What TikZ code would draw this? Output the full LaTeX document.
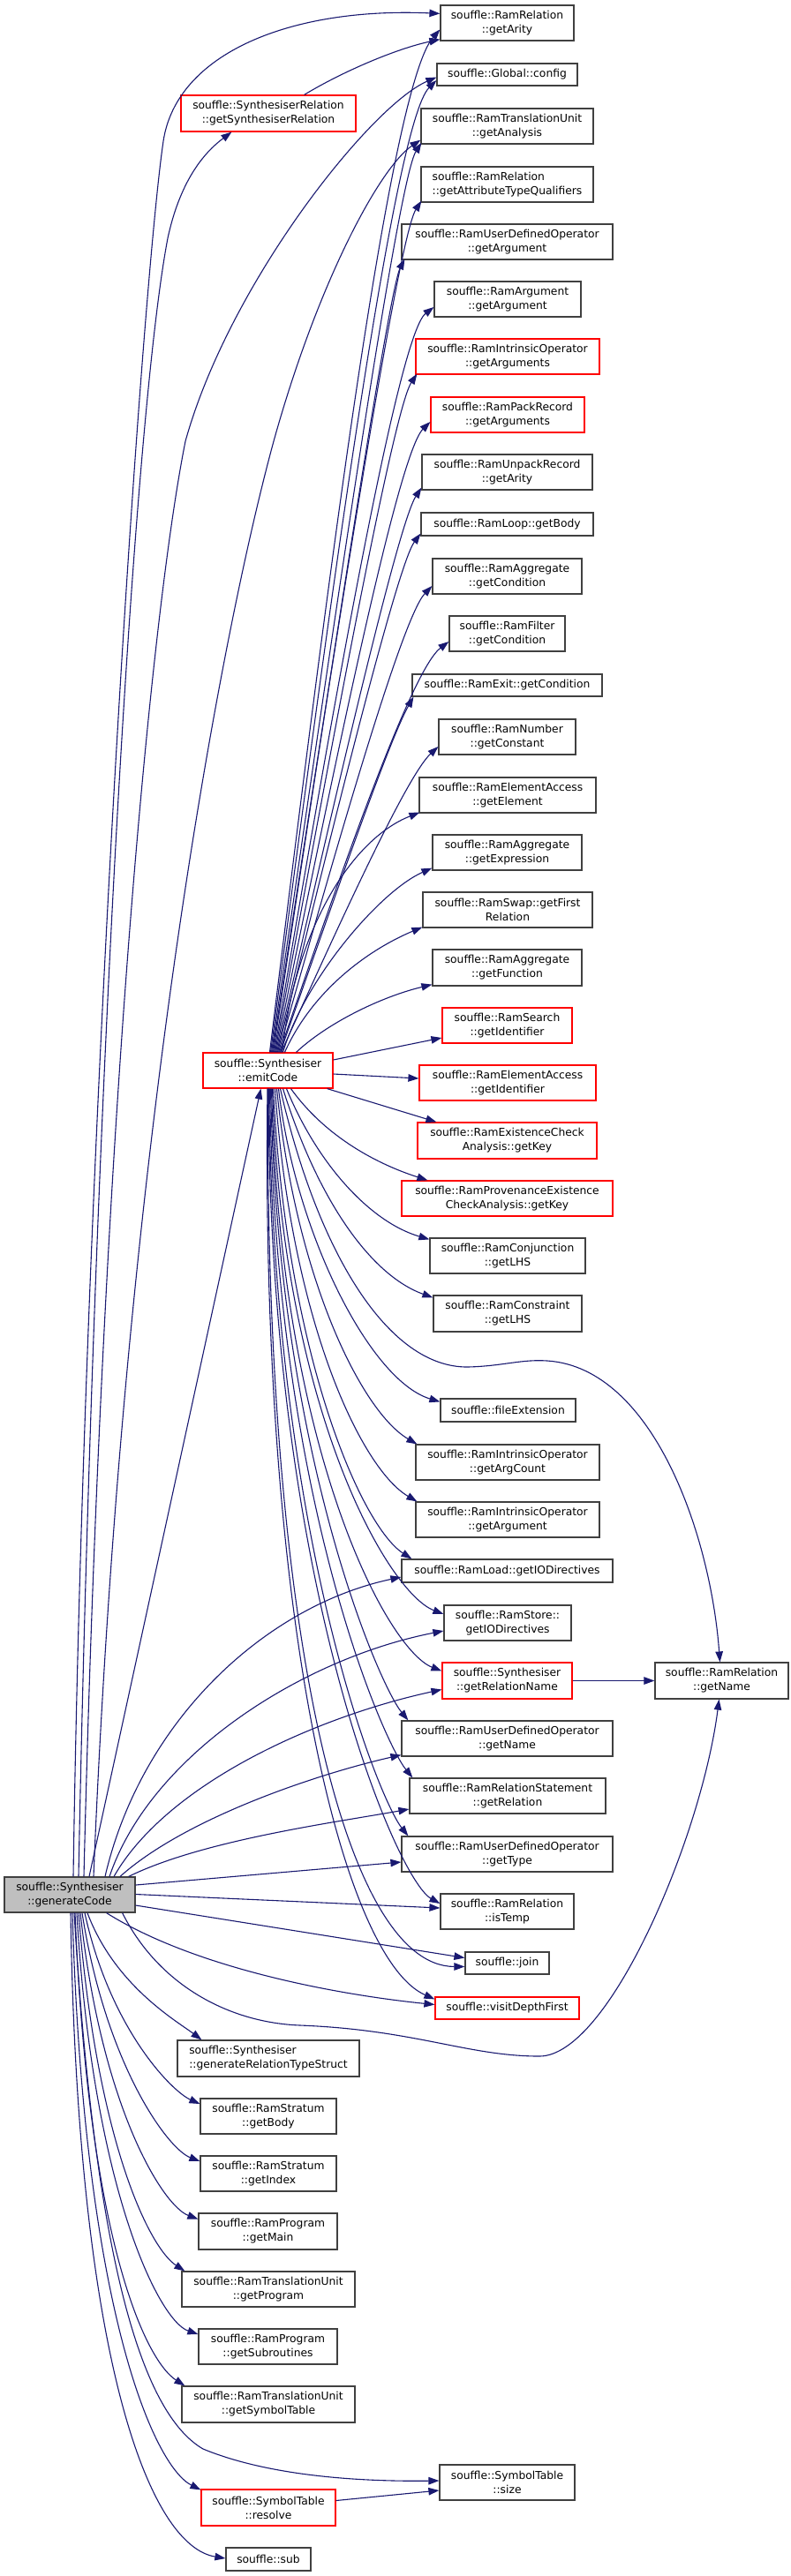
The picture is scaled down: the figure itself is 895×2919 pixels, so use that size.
\documentclass[tikz,border=0pt]{standalone}
\usepackage{fontspec}
\setmainfont{DejaVu Sans}
\usetikzlibrary{arrows.meta,calc}
\definecolor{edgeblue}{HTML}{191970}
\definecolor{nodegray}{HTML}{404040}
\definecolor{rootfill}{HTML}{BFBFBF}
\definecolor{nodered}{HTML}{FF0000}
\tikzset{
  fn/.style={draw=nodegray, line width=1.2pt, fill=white, align=center, inner sep=0pt, font=\fontsize{12.3pt}{16pt}\selectfont},
  fnred/.style={fn, draw=nodered},
  fnroot/.style={fn, fill=rootfill},
  call/.style={draw=edgeblue, line width=1.1pt, -{Triangle[length=12pt,width=8.5pt]}},
}
\begin{document}
\begin{tikzpicture}[x=1pt,y=-1pt]
\useasboundingbox (0,0) rectangle (895,2919);
% ---------- nodes ----------
\node[fn,minimum width=151pt,minimum height=40pt] (arity) at (574.5,26) {souffle::RamRelation\\::getArity};
\node[fn,minimum width=159pt,minimum height=25pt] (config) at (574.5,84.5) {souffle::Global::config};
\node[fnred,minimum width=198pt,minimum height=41pt] (gsr) at (304,128.5) {souffle::SynthesiserRelation\\::getSynthesiserRelation};
\node[fn,minimum width=195pt,minimum height=40pt] (analysis) at (574.5,143) {souffle::RamTranslationUnit\\::getAnalysis};
\node[fn,align=left,minimum width=195pt,minimum height=40pt] (atq) at (574.5,209) {souffle::RamRelation\\::getAttributeTypeQualifiers};
\node[fn,minimum width=239pt,minimum height=40pt] (udoarg) at (574.5,274) {souffle::RamUserDefinedOperator\\::getArgument};
\node[fn,minimum width=166pt,minimum height=40pt] (ramarg) at (575,339) {souffle::RamArgument\\::getArgument};
\node[fnred,minimum width=208pt,minimum height=40pt] (intrargs) at (575,404) {souffle::RamIntrinsicOperator\\::getArguments};
\node[fnred,minimum width=174pt,minimum height=40pt] (pack) at (575,470) {souffle::RamPackRecord\\::getArguments};
\node[fn,minimum width=193pt,minimum height=40pt] (unpack) at (574.5,535) {souffle::RamUnpackRecord\\::getArity};
\node[fn,minimum width=195pt,minimum height=26pt] (loop) at (574.5,594) {souffle::RamLoop::getBody};
\node[fn,minimum width=169pt,minimum height=40pt] (aggcond) at (574.5,653) {souffle::RamAggregate\\::getCondition};
\node[fn,minimum width=131pt,minimum height=40pt] (filter) at (574.5,718) {souffle::RamFilter\\::getCondition};
\node[fn,minimum width=215pt,minimum height=25pt] (exit) at (574.5,776.5) {souffle::RamExit::getCondition};
\node[fn,minimum width=155pt,minimum height=40pt] (number) at (574.5,835) {souffle::RamNumber\\::getConstant};
\node[fn,minimum width=200pt,minimum height=40pt] (elemget) at (575,901) {souffle::RamElementAccess\\::getElement};
\node[fn,minimum width=169pt,minimum height=40pt] (aggexpr) at (574.5,966) {souffle::RamAggregate\\::getExpression};
\node[fn,minimum width=192pt,minimum height=40pt] (swap) at (575,1031) {souffle::RamSwap::getFirst\\Relation};
\node[fn,minimum width=169pt,minimum height=41pt] (aggfunc) at (574.5,1096.5) {souffle::RamAggregate\\::getFunction};
\node[fnred,minimum width=147pt,minimum height=40pt] (search) at (574.5,1162) {souffle::RamSearch\\::getIdentifier};
\node[fnred,minimum width=147pt,minimum height=40pt] (emit) at (303.5,1213) {souffle::Synthesiser\\::emitCode};
\node[fnred,minimum width=200pt,minimum height=40pt] (elemid) at (575,1227) {souffle::RamElementAccess\\::getIdentifier};
\node[fnred,minimum width=203pt,minimum height=41pt] (exkey) at (574.5,1292.5) {souffle::RamExistenceCheck\\Analysis::getKey};
\node[fnred,minimum width=239pt,minimum height=40pt] (provkey) at (574.5,1358) {souffle::RamProvenanceExistence\\CheckAnalysis::getKey};
\node[fn,minimum width=176pt,minimum height=40pt] (conj) at (575,1423) {souffle::RamConjunction\\::getLHS};
\node[fn,minimum width=168pt,minimum height=41pt] (constr) at (575,1488.5) {souffle::RamConstraint\\::getLHS};
\node[fn,minimum width=153pt,minimum height=26pt] (fileext) at (575.5,1598) {souffle::fileExtension};
\node[fn,minimum width=208pt,minimum height=40pt] (argcount) at (575,1657) {souffle::RamIntrinsicOperator\\::getArgCount};
\node[fn,minimum width=208pt,minimum height=40pt] (intrarg) at (575,1722) {souffle::RamIntrinsicOperator\\::getArgument};
\node[fn,minimum width=239pt,minimum height=26pt] (load) at (574.5,1780) {souffle::RamLoad::getIODirectives};
\node[fn,minimum width=144pt,minimum height=40pt] (store) at (575,1839) {souffle::RamStore::\\getIODirectives};
\node[fnred,minimum width=147pt,minimum height=41pt] (relname) at (574.5,1904.5) {souffle::Synthesiser\\::getRelationName};
\node[fn,minimum width=151pt,minimum height=41pt] (getname) at (817.5,1904.5) {souffle::RamRelation\\::getName};
\node[fn,minimum width=239pt,minimum height=40pt] (udoname) at (574.5,1970) {souffle::RamUserDefinedOperator\\::getName};
\node[fn,minimum width=222pt,minimum height=40pt] (relstmt) at (575,2035) {souffle::RamRelationStatement\\::getRelation};
\node[fn,minimum width=239pt,minimum height=40pt] (udotype) at (574.5,2101) {souffle::RamUserDefinedOperator\\::getType};
\node[fnroot,minimum width=148pt,minimum height=40pt] (gen) at (79,2147) {souffle::Synthesiser\\::generateCode};
\node[fn,minimum width=151pt,minimum height=40pt] (istemp) at (574.5,2166) {souffle::RamRelation\\::isTemp};
\node[fn,minimum width=95pt,minimum height=25pt] (join) at (574.5,2224.5) {souffle::join};
\node[fnred,minimum width=163pt,minimum height=25pt] (visit) at (574.5,2275.5) {souffle::visitDepthFirst};
\node[fn,align=left,minimum width=206pt,minimum height=41pt] (grts) at (304,2332.5) {souffle::Synthesiser\\::generateRelationTypeStruct};
\node[fn,minimum width=154pt,minimum height=40pt] (stbody) at (304,2398) {souffle::RamStratum\\::getBody};
\node[fn,minimum width=154pt,minimum height=40pt] (stindex) at (304,2463) {souffle::RamStratum\\::getIndex};
\node[fn,minimum width=157pt,minimum height=41pt] (main) at (303.5,2528.5) {souffle::RamProgram\\::getMain};
\node[fn,minimum width=196pt,minimum height=40pt] (program) at (304,2594) {souffle::RamTranslationUnit\\::getProgram};
\node[fn,minimum width=157pt,minimum height=40pt] (subr) at (303.5,2659) {souffle::RamProgram\\::getSubroutines};
\node[fn,minimum width=196pt,minimum height=41pt] (symtab) at (304,2724.5) {souffle::RamTranslationUnit\\::getSymbolTable};
\node[fn,minimum width=153pt,minimum height=40pt] (size) at (574.5,2813) {souffle::SymbolTable\\::size};
\node[fnred,minimum width=152pt,minimum height=41pt] (resolve) at (304,2841.5) {souffle::SymbolTable\\::resolve};
\node[fn,minimum width=96pt,minimum height=26pt] (sub) at (304,2900) {souffle::sub};
% ---------- emitCode, upward ----------
\draw[call] ($(emit.north)+(2,0)$) .. controls (366,701) and (440,100) .. ($(arity.north west)+(0,28)$);
\draw[call] ($(emit.north)+(3,0)$) .. controls (369,719) and (445,140) .. ($(config.west)+(0,6.5)$);
\draw[call] ($(emit.north)+(4,0)$) .. controls (372,748) and (450,205) .. ($(analysis.south west)+(1,-2)$);
\draw[call] ($(emit.north)+(5,0)$) .. controls (372,778) and (450,270) .. ($(atq.south west)+(1,-2)$);
\draw[call] ($(emit.north)+(6,0)$) .. controls (368,805) and (440,330) .. ($(udoarg.south west)+(4,-1)$);
\draw[call] ($(emit.north)+(7,0)$) .. controls (373,827) and (450,380) .. ($(ramarg.west)+(0,9)$);
\draw[call] ($(emit.north)+(8,0)$) .. controls (372,865) and (445,465) .. ($(intrargs.south west)+(2,-1)$);
\draw[call] ($(emit.north)+(9,0)$) .. controls (375,888) and (450,515) .. ($(pack.west)+(0,8)$);
\draw[call] ($(emit.north)+(10,0)$) .. controls (375,924) and (450,595) .. ($(unpack.south west)+(0,-3)$);
\draw[call] ($(emit.north)+(11,0)$) .. controls (375,944) and (450,640) .. ($(loop.south west)+(0,-3)$);
\draw[call] ($(emit.north)+(12,0)$) .. controls (378,971) and (455,700) .. ($(aggcond.west)+(0,11)$);
\draw[call] ($(emit.north)+(13,0)$) .. controls (383,998) and (465,760) .. ($(filter.west)+(0,9)$);
\draw[call] ($(emit.north)+(14,0)$) .. controls (373,1034) and (440,840) .. ($(exit.south west)+(2,0)$);
\draw[call] ($(emit.north)+(15,0)$) .. controls (382,1052) and (460,880) .. ($(number.west)+(0,11)$);
\draw[call] ($(emit.north)+(16,0)$) .. controls (335,1050) and (400,950) .. ($(elemget.south west)+(1,-1)$);
\draw[call] ($(emit.north)+(17,0)$) .. controls (345,1110) and (430,1010) .. ($(aggexpr.south west)+(0,-3)$);
\draw[call] ($(emit.north)+(19,0)$) .. controls (355,1120) and (420,1075) .. ($(swap.south west)+(0,-1)$);
\draw[call] ($(emit.north)+(32,0)$) .. controls (370,1160) and (430,1130) .. ($(aggfunc.south west)+(0,-2)$);
% ---------- emitCode, right and downward ----------
\draw[call] ($(emit.east)+(0,-12)$) -- ($(search.west)+(0,14)$);
\draw[call] ($(emit.east)+(0,4)$) -- ($(elemid.west)+(0,-5)$);
\draw[call] ($(emit.south east)+(-7,0)$) -- ($(exkey.north west)+(22,0)$);
\draw[call] ($(emit.south)+(26,0)$) .. controls (370,1290) and (430,1320) .. ($(provkey.north west)+(30,0)$);
\draw[call] ($(emit.south)+(21,0)$) .. controls (360,1320) and (420,1385) .. ($(conj.north west)+(0,2)$);
\draw[call] ($(emit.south)+(17,0)$) .. controls (360,1360) and (420,1445) .. ($(constr.north west)+(0,3)$);
\draw[call] ($(emit.south)+(14,0)$) .. controls (360,1420) and (440,1550) .. (530,1549) .. controls (570,1548) and (590,1540) .. (620,1542) .. controls (740,1550) and (805,1740) .. ($(getname.north)+(-2,0)$);
\draw[call] ($(emit.south)+(12,0)$) .. controls (335,1400) and (420,1565) .. ($(fileext.north west)+(0,4)$);
\draw[call] ($(emit.south)+(10,0)$) .. controls (335,1450) and (410,1600) .. ($(argcount.north west)+(2,0)$);
\draw[call] ($(emit.south)+(8,0)$) .. controls (330,1500) and (410,1665) .. ($(intrarg.north west)+(2,0)$);
\draw[call] ($(emit.south)+(6,0)$) .. controls (325,1540) and (410,1730) .. ($(load.north west)+(12,0)$);
\draw[call] ($(emit.south)+(5,0)$) .. controls (320,1600) and (440,1805) .. ($(store.west)+(0,-10)$);
\draw[call] ($(emit.south)+(4,0)$) .. controls (318,1650) and (440,1870) .. ($(relname.west)+(0,-11)$);
\draw[call] ($(emit.south)+(3,0)$) .. controls (315,1650) and (430,1910) .. ($(udoname.north west)+(8,0)$);
\draw[call] ($(emit.south)+(2,0)$) .. controls (312,1700) and (435,1975) .. ($(relstmt.north west)+(4,0)$);
\draw[call] ($(emit.south)+(1,0)$) .. controls (310,1750) and (430,2040) .. ($(udotype.north west)+(8,0)$);
\draw[call] ($(emit.south)+(0.5,0)$) .. controls (305,1800) and (450,2130) .. ($(istemp.west)+(0,-9)$);
\draw[call] (emit.south) .. controls (300,1850) and (390,2228) .. ($(join.west)+(0,4)$);
\draw[call] ($(emit.south)+(-0.5,0)$) .. controls (295,1850) and (390,2220) .. ($(visit.north west)+(0,3)$);
% ---------- generateCode, upward ----------
\draw[call] ($(gen.north)+(4,0)$) .. controls (95,1300) and (160,330) .. (185,160) .. controls (200,60) and (330,8) .. ($(arity.north west)+(0,10)$);
\draw[call] ($(gen.north)+(10,0)$) .. controls (105,1300) and (150,480) .. (190,270) .. controls (205,200) and (235,170) .. ($(gsr.south west)+(58,0)$);
\draw[call] ($(gen.north)+(16,0)$) .. controls (115,1300) and (170,700) .. (210,500) .. controls (260,320) and (420,120) .. ($(config.west)+(0,3)$);
\draw[call] ($(gen.north)+(27,0)$) .. controls (140,1300) and (250,720) .. (310,500) .. controls (360,320) and (430,190) .. ($(analysis.south west)+(0,-5)$);
\draw[call] ($(gen.north)+(22,0)$) -- ($(emit.south)+(-8,0)$);
\draw[call] ($(gen.north)+(40,0)$) .. controls (160,1950) and (300,1820) .. ($(load.west)+(0,7)$);
\draw[call] ($(gen.north)+(45,0)$) .. controls (170,1990) and (340,1880) .. ($(store.west)+(0,9)$);
\draw[call] ($(gen.north)+(50,0)$) .. controls (190,2020) and (360,1945) .. ($(relname.west)+(0,10)$);
\draw[call] ($(gen.north)+(57,0)$) .. controls (210,2060) and (360,2010) .. ($(udoname.south west)+(0,-2)$);
\draw[call] ($(gen.north east)+(-8,0)$) .. controls (230,2085) and (380,2065) .. ($(relstmt.west)+(0,15)$);
% ---------- generateCode, right ----------
\draw[call] ($(gen.east)+(0,-11)$) -- ($(udotype.west)+(0,9)$);
\draw[call] ($(gen.east)+(0,-0.5)$) -- ($(istemp.west)+(0,-4)$);
\draw[call] ($(gen.east)+(0,12)$) -- ($(join.west)+(0,-6)$);
\draw[call] ($(gen.south east)+(-33,0)$) .. controls (220,2230) and (380,2260) .. ($(visit.west)+(0,-4)$);
\draw[call] ($(gen.south east)+(-15,0)$) .. controls (180,2250) and (260,2292) .. (340,2295) .. controls (470,2300) and (530,2330) .. (611,2330) .. controls (690,2330) and (795,2080) .. ($(getname.south)+(-3,0)$);
% ---------- generateCode, downward ----------
\draw[call] ($(gen.south)+(20,0)$) .. controls (130,2250) and (200,2290) .. ($(grts.north west)+(28,0)$);
\draw[call] ($(gen.south)+(17,0)$) .. controls (125,2300) and (195,2370) .. ($(stbody.west)+(0,-14)$);
\draw[call] ($(gen.south)+(14,0)$) .. controls (120,2340) and (190,2435) .. ($(stindex.west)+(0,-14)$);
\draw[call] ($(gen.south)+(12,0)$) .. controls (115,2390) and (185,2500) .. ($(main.west)+(0,-14)$);
\draw[call] ($(gen.south)+(10,0)$) .. controls (110,2430) and (170,2548) .. ($(program.north west)+(4,0)$);
\draw[call] ($(gen.south)+(8,0)$) .. controls (105,2480) and (180,2630) .. ($(subr.west)+(0,-14)$);
\draw[call] ($(gen.south)+(6,0)$) .. controls (100,2540) and (165,2675) .. ($(symtab.north west)+(4,0)$);
\draw[call] ($(gen.south)+(5,0)$) .. controls (110,2600) and (170,2740) .. (230,2775) .. controls (310,2808) and (420,2812) .. ($(size.west)+(0,-2)$);
\draw[call] ($(gen.south)+(3,0)$) .. controls (95,2620) and (175,2795) .. ($(resolve.north west)+(0,1)$);
\draw[call] ($(gen.south)+(1,0)$) .. controls (88,2680) and (170,2885) .. ($(sub.west)+(0,-1)$);
% ---------- other ----------
\draw[call] ($(gsr.north east)+(-59,0)$) .. controls (390,80) and (450,55) .. ($(arity.south west)+(0,-2)$);
\draw[call] (relname.east) -- (getname.west);
\draw[call] ($(resolve.east)+(0,-8)$) -- ($(size.west)+(0,9)$);
\end{tikzpicture}
\end{document}
